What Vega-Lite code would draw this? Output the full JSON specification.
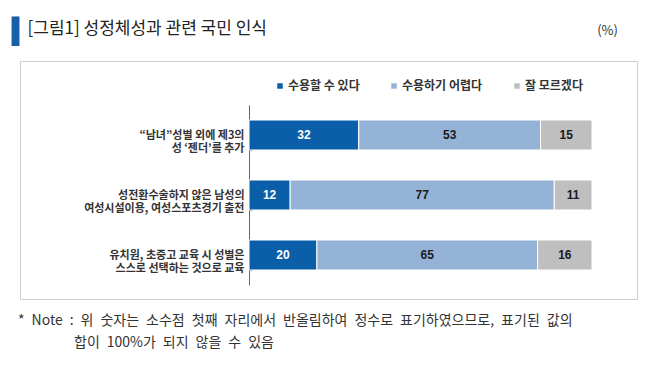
{
  "$schema": "https://vega.github.io/schema/vega-lite/v6.json",
  "autosize": {"type": "none"},
  "padding": {"left": 20, "top": 61, "right": 17, "bottom": 66},
  "width": 617,
  "height": 238,
  "background": "white",
  "config": {
    "view": {"stroke": "#cfcfcf", "strokeWidth": 1},
    "font": "Noto Sans CJK KR"
  },
  "title": {
    "text": ["*\u2002Note\u2002:\u2002위\u2002숫자는\u2002소수점\u2002첫째\u2002자리에서\u2002반올림하여\u2002정수로\u2002표기하였으므로,\u2002표기된\u2002값의", "\u200b\u3000\u3000\u3000\u3000합이\u2002100%가\u2002되지\u2002않을\u2002수\u2002있음"],
    "orient": "bottom",
    "anchor": "start",
    "frame": "group",
    "font": "Noto Sans CJK KR",
    "fontSize": 14,
    "fontWeight": "normal",
    "color": "#333333",
    "lineHeight": 22,
    "baseline": "top",
    "offset": 15,
    "dx": -2
  },
  "data": {
    "values": [
      {"q": "“남녀”성별 외에 제3의|성 ‘젠더’를 추가", "r": "수용할 수 있다", "k": 1, "v": 32},
      {"q": "“남녀”성별 외에 제3의|성 ‘젠더’를 추가", "r": "수용하기 어렵다", "k": 2, "v": 53},
      {"q": "“남녀”성별 외에 제3의|성 ‘젠더’를 추가", "r": "잘 모르겠다", "k": 3, "v": 15},
      {"q": "성전환수술하지 않은 남성의|여성시설이용, 여성스포츠경기 출전", "r": "수용할 수 있다", "k": 1, "v": 12},
      {"q": "성전환수술하지 않은 남성의|여성시설이용, 여성스포츠경기 출전", "r": "수용하기 어렵다", "k": 2, "v": 77},
      {"q": "성전환수술하지 않은 남성의|여성시설이용, 여성스포츠경기 출전", "r": "잘 모르겠다", "k": 3, "v": 11},
      {"q": "유치원, 초중고 교육 시 성별은|스스로 선택하는 것으로 교육", "r": "수용할 수 있다", "k": 1, "v": 20},
      {"q": "유치원, 초중고 교육 시 성별은|스스로 선택하는 것으로 교육", "r": "수용하기 어렵다", "k": 2, "v": 65},
      {"q": "유치원, 초중고 교육 시 성별은|스스로 선택하는 것으로 교육", "r": "잘 모르겠다", "k": 3, "v": 16}
    ]
  },
  "layer": [
    {
      "mark": {"type": "bar", "stroke": "white", "strokeWidth": 1},
      "encoding": {
        "y": {
          "field": "q", "type": "nominal", "sort": null,
          "scale": {"range": [44, 224], "paddingInner": 0.5, "paddingOuter": 0.25},
          "axis": {
            "orient": "left", "offset": -229,
            "title": "[그림1] 성정체성과 관련 국민 인식",
            "titleAngle": 0, "titleAlign": "left", "titleBaseline": "middle",
            "titleX": -222, "titleY": -33,
            "titleFont": "Noto Sans CJK KR", "titleFontSize": 17, "titleFontWeight": "normal", "titleColor": "#222222",
            "labelExpr": "split(datum.label, '|')",
            "labelFont": "Noto Sans CJK KR", "labelFontSize": 11, "labelFontWeight": "bold", "labelColor": "#333333",
            "labelLineHeight": 13, "labelPadding": 8, "labelLimit": 400,
            "tickBand": "extent", "tickSize": -3, "tickColor": "#666666", "domainColor": "#666666",
            "grid": false
          }
        },
        "x": {
          "field": "v", "type": "quantitative", "stack": "normalize",
          "scale": {"domain": [0, 1], "range": [229, 572], "nice": false},
          "axis": {
            "orient": "top", "labels": false, "ticks": false, "domain": false, "grid": false,
            "title": "(%)", "titleX": 587, "titleY": -31, "titleAlign": "center", "titleBaseline": "middle",
            "titleFont": "Noto Sans CJK KR", "titleFontSize": 13, "titleFontWeight": "normal", "titleColor": "#333333"
          }
        },
        "order": {"field": "k", "type": "quantitative"},
        "color": {
          "field": "r", "type": "nominal",
          "sort": ["수용할 수 있다", "수용하기 어렵다", "잘 모르겠다"],
          "scale": {"domain": ["수용할 수 있다", "수용하기 어렵다", "잘 모르겠다"], "range": ["#0b5ea8", "#95b3d7", "#bfbfbf"]},
          "legend": {
            "orient": "none", "legendX": 254, "legendY": 19, "direction": "horizontal", "title": null,
            "symbolType": "square", "symbolSize": 30, "symbolStrokeWidth": 0,
            "labelFont": "Noto Sans CJK KR", "labelFontSize": 12, "labelFontWeight": "bold", "labelColor": "#333333",
            "labelOffset": 2, "columnPadding": 28, "padding": 0
          }
        }
      }
    },
    {
      "mark": {"type": "text", "font": "Liberation Sans", "fontSize": 12, "fontWeight": "bold", "baseline": "middle", "align": "center"},
      "encoding": {
        "y": {
          "field": "q", "type": "nominal", "sort": null,
          "axis": {
            "orient": "left", "labels": false, "ticks": false, "domain": false, "grid": false,
            "title": "▌", "titleFont": "Liberation Mono", "titleFontSize": 26, "titleColor": "#1560a9",
            "titleAngle": 0, "titleAlign": "left", "titleBaseline": "middle",
            "titleX": -9, "titleY": -32
          }
        },
        "x": {"field": "v", "type": "quantitative", "stack": "normalize", "bandPosition": 0.5, "axis": null},
        "order": {"field": "k", "type": "quantitative"},
        "text": {"field": "v", "type": "quantitative"},
        "color": {
          "field": "r", "type": "nominal",
          "sort": ["수용할 수 있다", "수용하기 어렵다", "잘 모르겠다"],
          "scale": {"domain": ["수용할 수 있다", "수용하기 어렵다", "잘 모르겠다"], "range": ["#ffffff", "#1a1a1a", "#1a1a1a"]},
          "legend": null
        }
      }
    }
  ],
  "resolve": {"scale": {"color": "independent"}, "axis": {"y": "independent", "x": "independent"}}
}
